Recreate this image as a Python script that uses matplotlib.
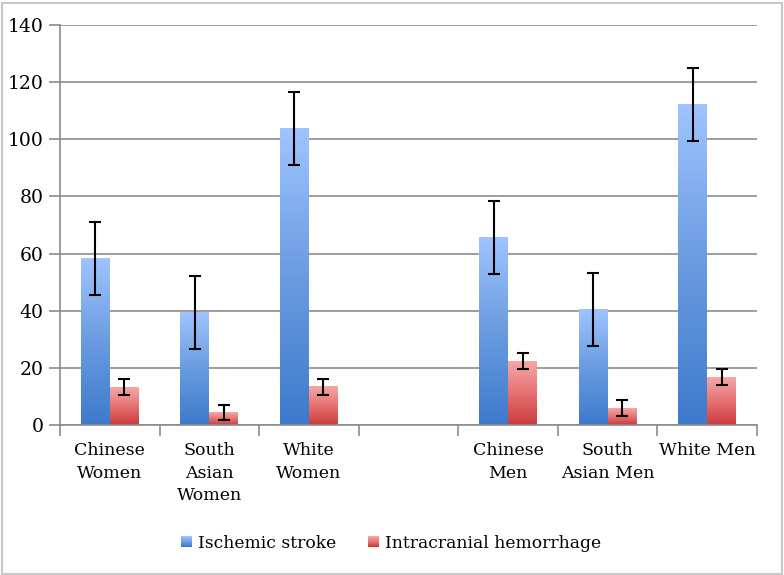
import matplotlib
matplotlib.use("Agg")
import matplotlib.pyplot as plt
import numpy as np
from matplotlib.colors import LinearSegmentedColormap
from matplotlib.legend_handler import HandlerBase
from matplotlib.patches import Rectangle

# Data
categories = ["Chinese\nWomen", "South\nAsian\nWomen", "White\nWomen", "",
              "Chinese\nMen", "South\nAsian Men", "White Men"]
ischemic = [58.4, 39.3, 103.7, np.nan, 65.6, 40.5, 112.2]
ischemic_err = [12.8, 12.8, 12.8, np.nan, 12.8, 12.8, 12.8]
hemorrhage = [13.2, 4.5, 13.4, np.nan, 22.4, 5.9, 16.8]
hemorrhage_err = [2.8, 2.6, 2.8, np.nan, 2.7, 2.8, 2.8]
series_names = ["Ischemic stroke", "Intracranial hemorrhage"]

blue_cmap = LinearSegmentedColormap.from_list("blue", ["#3d7acc", "#6a9be0", "#9fc4ff"])
red_cmap = LinearSegmentedColormap.from_list("red", ["#cc3b3b", "#e67272", "#f5a8a8"])

plt.rcParams["font.family"] = ["DejaVu Serif"]

fig = plt.figure(figsize=(7.84, 5.75), dpi=100)
ax = fig.add_axes([60 / 784, 1 - 425 / 575, 697 / 784, 400 / 575])

x = np.arange(len(categories))
width = 0.29
grad = np.linspace(0, 1, 256).reshape(-1, 1)


def gradient_bars(xs, vals, errs, cmap):
    for xi, v, e in zip(xs, vals, errs):
        if np.isnan(v):
            continue
        ax.imshow(grad, cmap=cmap, origin="lower", aspect="auto",
                  extent=(xi - width / 2, xi + width / 2, 0, v), zorder=2)
        ax.errorbar(xi, v, yerr=e, fmt="none", ecolor="black", elinewidth=1.5,
                    capsize=4.5, capthick=1.5, zorder=3)


gradient_bars(x - width / 2, ischemic, ischemic_err, blue_cmap)
gradient_bars(x + width / 2, hemorrhage, hemorrhage_err, red_cmap)

ax.set_xlim(-0.5, len(categories) - 0.5)
ax.set_ylim(0, 140)
ax.set_yticks(np.arange(0, 141, 20))
ax.yaxis.grid(True, color="#8c8c8c", linewidth=1.2, zorder=0)
ax.set_axisbelow(True)

ax.set_xticks(np.arange(-0.5, len(categories), 1))
ax.set_xticklabels([])
ax.set_xticks(x, minor=True)
ax.set_xticklabels(categories, minor=True, fontsize=12.5, linespacing=1.45)
ax.tick_params(axis="x", which="major", length=8, color="#8c8c8c", width=1.2)
ax.tick_params(axis="x", which="minor", length=0, pad=12)
ax.tick_params(axis="y", length=8, color="#8c8c8c", width=1.2, labelsize=13.5, pad=4)

for s in ["top", "right"]:
    ax.spines[s].set_visible(False)
for s in ["left", "bottom"]:
    ax.spines[s].set_color("#8c8c8c")
    ax.spines[s].set_linewidth(1.2)


class GradientHandler(HandlerBase):
    def __init__(self, cmap):
        super().__init__()
        self.cmap = cmap

    def create_artists(self, legend, orig_handle, xdescent, ydescent,
                       width_, height, fontsize, trans):
        size = min(width_, height)
        x0 = width_ - size
        n = 10
        artists = []
        for i in range(n):
            r = Rectangle((x0 - xdescent, -ydescent + size * i / n), size, size / n,
                          facecolor=self.cmap(i / (n - 1)), edgecolor="none",
                          transform=trans)
            artists.append(r)
        return artists


h_blue = Rectangle((0, 0), 1, 1)
h_red = Rectangle((0, 0), 1, 1)
fig.legend([h_blue, h_red], series_names, loc="center", bbox_to_anchor=(391 / 784, 1 - 543 / 575),
           ncol=2, frameon=False, fontsize=12.3, handlelength=0.65, handleheight=0.65,
           handletextpad=0.35, columnspacing=1.9,
           handler_map={h_blue: GradientHandler(blue_cmap), h_red: GradientHandler(red_cmap)})

# outer chart frame
fig.patches.append(Rectangle((0.002, 0.002), 0.995, 0.993, transform=fig.transFigure,
                             fill=False, edgecolor="#c8c8c8", linewidth=1.5))

fig.savefig("out.png", dpi=100)
